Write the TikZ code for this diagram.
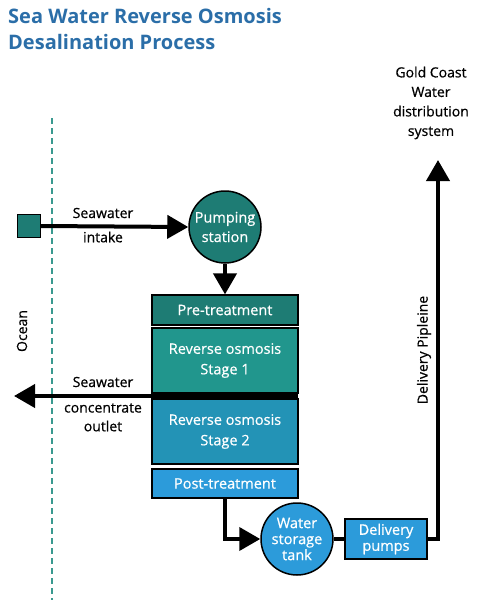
\documentclass[tikz,border=0pt]{standalone}
\usepackage{fontspec}
\setmainfont{Open Sans}
\newfontfamily\medfont{Open Sans}[FakeBold=0.6]
\usetikzlibrary{arrows.meta}
\definecolor{titleblue}{HTML}{2B6EA8}
\definecolor{tealdark}{HTML}{1E7C74}
\definecolor{tealmid}{HTML}{21968D}
\definecolor{tealblue}{HTML}{2393B6}
\definecolor{skyblue}{HTML}{2C9BDA}
\definecolor{dashteal}{HTML}{3A9A90}
\tikzset{
  proc/.style={draw=black, line width=1.2pt, text=white, font=\medfont\fontsize{14.5}{20.5}\selectfont, align=center, inner sep=0pt, minimum width=146pt},
  roundnode/.style={circle, draw=black, line width=1.5pt, text=white, font=\medfont\fontsize{14.5}{16}\selectfont, align=center, inner sep=0pt, minimum size=72pt},
  lbl/.style={font=\medfont\fontsize{14}{16}\selectfont, text=black, align=center},
  flow/.style={line width=4pt, draw=black},
  flowarrow/.style={flow, -{Triangle[length=21pt,width=23pt]}},
}
\begin{document}
\begin{tikzpicture}[x=1pt,y=-1pt]
\useasboundingbox (0,0) rectangle (489,605);
% title
\node[anchor=north west, inner sep=0pt, align=left, text=titleblue, font=\bfseries\fontsize{20}{26}\selectfont] (title) at (8,8) {Sea Water Reverse Osmosis\\Desalination Process};
% ocean dashed line
\draw[dashteal, line width=2pt, dash pattern=on 6pt off 4pt] (52,118) -- (52,600);
\node[lbl, rotate=90] (ocean) at (22,331) {Ocean};
% intake
\node[draw=black, line width=1.2pt, fill=tealdark, minimum size=23pt, inner sep=0pt] (sq) at (29,226) {};
\node[roundnode, fill=tealdark, font=\medfont\fontsize{14.5}{19.5}\selectfont] (pump) at (225,227) {Pumping\\station};
\draw[flowarrow] (sq.east) -- (pump.west);
\node[lbl] (intake1) at (103,213) {Seawater};
\node[lbl] (intake2) at (103,237) {intake};
% treatment stack
\node[proc, fill=tealdark, minimum height=30pt] (pre) at (225,310) {Pre-treatment};
\node[proc, fill=tealmid, minimum height=65pt] (ro1) at (225,360.5) {Reverse osmosis\\Stage 1};
\node[proc, fill=tealblue, minimum height=65pt] (ro2) at (225,431.5) {Reverse osmosis\\Stage 2};
\node[proc, fill=skyblue, minimum height=29pt] (post) at (225,483.5) {Post-treatment};
\draw[flowarrow] (pump.south) -- (pre.north);
% outlet
\coordinate (outS) at (298,396);
\coordinate (outE) at (14,396);
\draw[flowarrow] (outS) -- (outE);
\node[lbl] (out1) at (103,382) {Seawater};
\node[lbl] (out2) at (103,408) {concentrate};
\node[lbl] (out3) at (103,426) {outlet};
% storage and delivery
\node[roundnode, fill=skyblue] (tank) at (297,539) {Water\\storage\\tank};
\node[proc, fill=skyblue, minimum width=82pt, minimum height=40pt, font=\medfont\fontsize{14.5}{16}\selectfont] (dpump) at (386,539) {Delivery\\pumps};
\draw[flowarrow] (post.south) |- (tank.west);
\draw[flow] (tank.east) -- (dpump.west);
\coordinate (dturn) at (438,539);
\coordinate (dtop) at (438,160);
\draw[flowarrow] (dpump.east) -- (dturn) -- (dtop);
\node[lbl, rotate=90] (pipe) at (424,350) {Delivery Pipleine};
\node[lbl, font=\medfont\fontsize{14}{19.5}\selectfont] (gold) at (431,103) {Gold Coast\\Water\\distribution\\system};
\end{tikzpicture}
\end{document}
